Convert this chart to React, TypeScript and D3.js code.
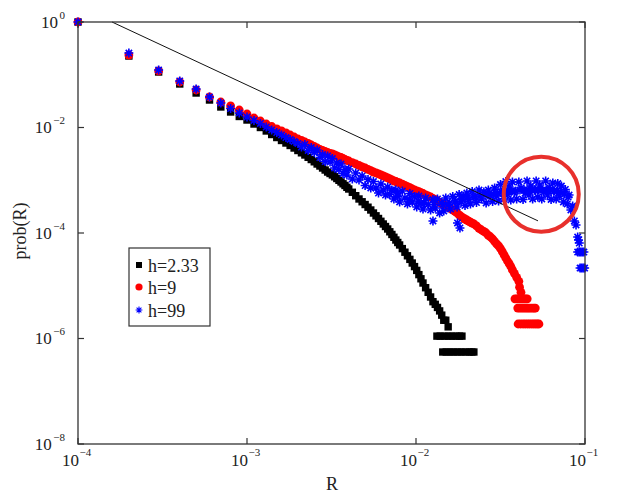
import React from "react";
import * as d3 from "d3";

// ---------- data ----------
const seriesLabels = ["h=2.33", "h=9", "h=99"];

// R sample positions (shared by the three series; each series uses as many as it has values)
const rGrid = [
  0.0001, 0.0002, 0.0003, 0.0004, 0.0005, 0.0006, 0.0007, 0.0008, 0.0009, 0.001,
  0.0011, 0.0012, 0.0013, 0.0014, 0.0015, 0.0016, 0.0017, 0.0018, 0.0019, 0.002,
  0.0021, 0.0022, 0.0023, 0.0024, 0.0025, 0.0026, 0.0027, 0.0028, 0.0029, 0.003,
  0.0031, 0.0032, 0.0033, 0.0034, 0.0035, 0.0036, 0.0037, 0.0038, 0.0039, 0.004,
  0.0042, 0.0044, 0.0046, 0.0048, 0.005, 0.0052, 0.0054, 0.0056, 0.0058, 0.006,
  0.0062, 0.0064, 0.0066, 0.0068, 0.007, 0.0072, 0.0074, 0.0076, 0.0078, 0.008,
  0.0083, 0.0086, 0.0089, 0.0092, 0.0095, 0.0098, 0.0101, 0.0104, 0.0107, 0.011,
  0.0114, 0.0118, 0.0122, 0.0126, 0.013, 0.0134, 0.0138, 0.0142, 0.0146, 0.015,
  0.0155, 0.016, 0.0165, 0.017, 0.0175, 0.018, 0.0185, 0.019, 0.0195, 0.02,
  0.0205, 0.021, 0.0215, 0.022,
  0.0228, 0.0236, 0.0244, 0.0252, 0.026, 0.0268, 0.0276, 0.0284, 0.0292, 0.03,
  0.0308, 0.0316, 0.0324, 0.0332, 0.034, 0.0348, 0.0356, 0.0364, 0.0372,
  0.0382, 0.0394, 0.0406, 0.0418, 0.043, 0.0442, 0.0454, 0.0466, 0.0478, 0.049,
  0.0502, 0.0514, 0.0526,
  0.054, 0.0555, 0.057, 0.0585, 0.06, 0.0615, 0.063, 0.0645, 0.066, 0.0675,
  0.069, 0.0705,
  0.0725, 0.0745, 0.0765, 0.0785, 0.0805, 0.0825, 0.0845, 0.0865, 0.0885, 0.0905,
  0.0925,
];

// log10(prob)
const blackLogP = [
  0, -0.645, -0.948, -1.175, -1.346, -1.479, -1.611, -1.706, -1.791, -1.858,
  -1.934, -2.0, -2.066, -2.133, -2.19, -2.246, -2.294, -2.341, -2.389, -2.436,
  -2.48, -2.521, -2.565, -2.607, -2.65, -2.692, -2.73, -2.768, -2.806, -2.844,
  -2.872, -2.9, -2.934, -2.967, -3.001, -3.033, -3.067, -3.099, -3.134, -3.166,
  -3.228, -3.293, -3.355, -3.408, -3.46, -3.511, -3.564, -3.621, -3.674, -3.725,
  -3.778, -3.829, -3.877, -3.924, -3.977, -4.028, -4.081, -4.133, -4.18, -4.227,
  -4.296, -4.364, -4.432, -4.5, -4.569, -4.637, -4.709, -4.789, -4.868, -4.948,
  -5.037, -5.124, -5.213, -5.302, -5.352, -5.411, -5.477, -5.557, -5.654, -5.654,
  -5.779,
];
const blackTailR = [
  0.0133, 0.0139, 0.0147, 0.0155, 0.0163, 0.0172, 0.0181, 0.0187,
  0.0144, 0.0151, 0.0159, 0.0167, 0.0176, 0.0185, 0.0195, 0.0206, 0.0214, 0.022,
];
const blackTailLogP = [
  -5.955, -5.955, -5.955, -5.955, -5.955, -5.955, -5.955, -5.955,
  -6.256, -6.256, -6.256, -6.256, -6.256, -6.256, -6.256, -6.256, -6.256, -6.256,
];

const redLogP = [
  0, -0.626, -0.929, -1.137, -1.289, -1.422, -1.517, -1.592, -1.668, -1.744,
  -1.82, -1.877, -1.934, -1.981, -2.028, -2.066, -2.104, -2.142, -2.18, -2.218,
  -2.246, -2.275, -2.303, -2.332, -2.36, -2.389, -2.413, -2.436, -2.455, -2.474,
  -2.489, -2.502, -2.521, -2.54, -2.555, -2.569, -2.588, -2.607, -2.622, -2.635,
  -2.664, -2.692, -2.72, -2.745, -2.768, -2.792, -2.819, -2.844, -2.862, -2.881,
  -2.9, -2.919, -2.938, -2.957, -2.976, -2.995, -3.01, -3.024, -3.039, -3.052,
  -3.075, -3.098, -3.12, -3.141, -3.166, -3.185, -3.2, -3.217, -3.234, -3.251,
  -3.276, -3.299, -3.318, -3.344, -3.369, -3.393, -3.42, -3.443, -3.463, -3.484,
  -3.513, -3.539, -3.564, -3.592, -3.621, -3.655, -3.687, -3.712, -3.735, -3.754,
  -3.773, -3.792, -3.811, -3.829,
  -3.867, -3.911, -3.943, -3.971, -4.0, -4.047, -4.076, -4.114, -4.161, -4.208,
  -4.246, -4.294, -4.351, -4.413, -4.474, -4.531, -4.582, -4.635, -4.701,
  -4.764, -4.84, -4.916,
];
const redTailR = [
  0.041, 0.0418,
  0.0385, 0.0395, 0.0405, 0.0415, 0.0425, 0.0435, 0.0445, 0.0455,
  0.04, 0.0412, 0.0424, 0.0436, 0.0448, 0.046, 0.0472, 0.0485, 0.0498, 0.0508,
  0.0402, 0.0416, 0.043, 0.0443, 0.0457, 0.047, 0.0484, 0.0497, 0.051, 0.0522, 0.0534,
];
const redTailLogP = [
  -5.027, -5.125,
  -5.248, -5.248, -5.248, -5.248, -5.248, -5.248, -5.248, -5.248,
  -5.424, -5.424, -5.424, -5.424, -5.424, -5.424, -5.424, -5.424, -5.424, -5.424,
  -5.725, -5.725, -5.725, -5.725, -5.725, -5.725, -5.725, -5.725, -5.725, -5.725, -5.725,
];

const blueLogP = [
  0, -0.588, -0.91, -1.118, -1.27, -1.422, -1.536, -1.64, -1.725, -1.801,
  -1.867, -1.924, -1.99, -2.047, -2.095, -2.142, -2.19, -2.227, -2.265, -2.303,
  -2.37, -2.322, -2.436, -2.379, -2.474, -2.427, -2.569, -2.512, -2.645, -2.54,
  -2.654, -2.588, -2.768, -2.673, -2.796, -2.692, -2.872, -2.796, -2.9, -2.787,
  -2.976, -2.863, -2.995, -2.919, -3.1, -2.986, -3.147, -3.024, -3.147, -3.242,
  -3.071, -3.185, -3.28, -3.128, -3.27, -3.185, -3.355, -3.185, -3.308, -3.412,
  -3.204, -3.336, -3.45, -3.251, -3.412, -3.308, -3.507, -3.299, -3.441, -3.545,
  -3.336, -3.46, -3.564, -3.365, -3.526, -3.355, -3.621, -3.431, -3.583, -3.336,
  -3.469, -3.545, -3.308, -3.412, -3.507, -3.27, -3.412, -3.299, -3.479, -3.242,
  -3.365, -3.45, -3.213, -3.318,
  -3.422, -3.185, -3.355, -3.223, -3.431, -3.185, -3.299, -3.403, -3.147, -3.299,
  -3.393, -3.081, -3.223, -3.355, -3.024, -3.27, -3.128, -3.374, -3.033,
  -3.223, -3.355, -3.033, -3.147, -3.365, -3.242, -3.014, -3.28, -3.109, -3.355,
  -3.185, -3.014, -3.318,
  -3.09, -3.355, -3.223, -3.014, -3.28, -3.137, -3.365, -3.052, -3.204, -3.355,
  -3.062, -3.299,
  -3.109, -3.412, -3.175, -3.45, -3.28, -3.564, -3.488, -3.772, -3.848, -4.076,
  -4.19,
];
// extra blue samples: scattered outliers, the dense body of the noisy band, and the tail
const blueExtraR = [
  0.0126, 0.0176, 0.0182,
  0.0078, 0.0091, 0.0103, 0.0112, 0.0128, 0.0144, 0.0158, 0.0172, 0.0188, 0.0202,
  0.0224, 0.024, 0.0256, 0.0272, 0.0288, 0.0304, 0.032, 0.0336, 0.0352, 0.0368,
  0.0388, 0.0412, 0.0436, 0.046, 0.0484, 0.0508, 0.0533, 0.0562, 0.0592, 0.0622,
  0.0652, 0.0682, 0.0715, 0.0755, 0.0795,
  0.0915,
  0.0905, 0.0925, 0.0945, 0.0965, 0.0985,
  0.0935, 0.0955, 0.0975, 0.0995,
];
const blueExtraLogP = [
  -3.772, -3.81, -3.905,
  -3.242, -3.365, -3.393, -3.431, -3.46, -3.46, -3.431, -3.393, -3.365, -3.336,
  -3.318, -3.299, -3.28, -3.28, -3.261, -3.242, -3.223, -3.204, -3.204, -3.204,
  -3.204, -3.185, -3.185, -3.185, -3.185, -3.185, -3.185, -3.185, -3.185, -3.185,
  -3.204, -3.204, -3.223, -3.261, -3.318,
  -4.133,
  -4.361, -4.361, -4.361, -4.361, -4.361,
  -4.664, -4.664, -4.664, -4.664,
];

// reference power-law line and highlight circle
const guideR = [1.59e-4, 0.0527];
const guideP = [1, 1.7e-4];
const circleR = 0.0551;
const circleP = 5.44e-4;

const xTickExps = [-4, -3, -2, -1];
const yTickExps = [0, -2, -4, -6, -8];

// ---------- chart ----------
const W = 621;
const H = 502;
const L = 78, Rr = 585, T = 22, B = 444;
const axisColor = "#333";
const font = "Liberation Serif, Times New Roman, serif";

function pts(r: number[], logp: number[]) {
  return logp.map((v, i) => [r[i], Math.pow(10, v)] as [number, number]);
}

function Square({ cx, cy, s }: { cx: number; cy: number; s: number }) {
  return <rect x={cx - s / 2} y={cy - s / 2} width={s} height={s} fill="#000" />;
}
function Dot({ cx, cy, r }: { cx: number; cy: number; r: number }) {
  return <circle cx={cx} cy={cy} r={r} fill="#ff0000" />;
}
function Star({ cx, cy, s, w }: { cx: number; cy: number; s: number; w: number }) {
  const d = s * 0.7071;
  return (
    <path
      d={`M${cx - s},${cy}H${cx + s}M${cx},${cy - s}V${cy + s}M${cx - d},${cy - d}L${cx + d},${cy + d}M${cx - d},${cy + d}L${cx + d},${cy - d}`}
      stroke="#0000ff"
      strokeWidth={w}
      fill="none"
    />
  );
}

export default function App() {
  const x = d3.scaleLog().domain([1e-4, 1e-1]).range([L, Rr]);
  const y = d3.scaleLog().domain([1e-8, 1]).range([B, T]);

  const black = pts(rGrid, blackLogP).concat(pts(blackTailR, blackTailLogP));
  const red = pts(rGrid, redLogP).concat(pts(redTailR, redTailLogP));
  const blue = pts(rGrid, blueLogP).concat(pts(blueExtraR, blueExtraLogP));

  const guide = d3
    .line<[number, number]>()
    .x((d) => x(d[0]))
    .y((d) => y(d[1]))(guideR.map((r, i) => [r, guideP[i]] as [number, number]));

  const tickLen = 6;
  const legendX = 129, legendY = 248;
  const legendRows = [265, 287, 310];

  return (
    <svg
      width={W}
      height={H}
      style={{ position: "absolute", left: 0, top: 0, background: "#fff" }}
      fontFamily={font}
    >
      <rect x={0} y={0} width={W} height={H} fill="#fff" />

      {/* data */}
      <g>
        {black.map((d, i) => (
          <Square key={"b" + i} cx={x(d[0])} cy={y(d[1])} s={7.4} />
        ))}
      </g>
      <g>
        {red.map((d, i) => (
          <Dot key={"r" + i} cx={x(d[0])} cy={y(d[1])} r={4.4} />
        ))}
      </g>
      <g>
        {blue.map((d, i) => (
          <Star key={"s" + i} cx={x(d[0])} cy={y(d[1])} s={4.5} w={1.6} />
        ))}
      </g>

      {/* guide line */}
      <path d={guide || ""} stroke="#111" strokeWidth={1} fill="none" />

      {/* highlight circle */}
      <circle cx={x(circleR)} cy={y(circleP)} r={37.5} fill="none" stroke="#e8302c" strokeWidth={4} />

      {/* frame */}
      <rect x={L} y={T} width={Rr - L} height={B - T} fill="none" stroke={axisColor} strokeWidth={1.3} />

      {/* x ticks */}
      {xTickExps.map((e) => {
        const px = x(Math.pow(10, e));
        return (
          <g key={"xt" + e}>
            <line x1={px} x2={px} y1={B} y2={B - tickLen} stroke={axisColor} strokeWidth={1.2} />
            <line x1={px} x2={px} y1={T} y2={T + tickLen} stroke={axisColor} strokeWidth={1.2} />
            <text x={px + 1} y={466} fontSize={17} textAnchor="end" fill="#222">10</text>
            <text x={px + 1.5} y={456} fontSize={11} fill="#222">{"\u2212" + Math.abs(e)}</text>
          </g>
        );
      })}

      {/* y ticks */}
      {yTickExps.map((e) => {
        const py = y(Math.pow(10, e));
        return (
          <g key={"yt" + e}>
            <line x1={L} x2={L + tickLen} y1={py} y2={py} stroke={axisColor} strokeWidth={1.2} />
            <line x1={Rr} x2={Rr - tickLen} y1={py} y2={py} stroke={axisColor} strokeWidth={1.2} />
            <text x={65} y={py + 5.5} textAnchor="end" fill="#222">
              <tspan fontSize={17}>10</tspan>
              <tspan fontSize={11} dx={1.5} dy={-9}>{e === 0 ? "0" : "\u2212" + Math.abs(e)}</tspan>
            </text>
          </g>
        );
      })}

      {/* axis labels */}
      <text x={332} y={490} fontSize={18} textAnchor="middle" fill="#222">R</text>
      <text transform="translate(26,231) rotate(-90)" fontSize={18} textAnchor="middle" fill="#222">
        prob(R)
      </text>

      {/* legend */}
      <rect x={legendX} y={legendY} width={81} height={78} fill="#fff" stroke={axisColor} strokeWidth={1.2} />
      <Square cx={139} cy={legendRows[0]} s={6} />
      <Dot cx={139} cy={legendRows[1]} r={3.6} />
      <Star cx={139} cy={legendRows[2]} s={3.4} w={1.1} />
      {seriesLabels.map((lab, i) => (
        <text key={lab} x={148} y={legendRows[i] + 6.5} fontSize={18} fill="#222">
          {lab}
        </text>
      ))}
    </svg>
  );
}
